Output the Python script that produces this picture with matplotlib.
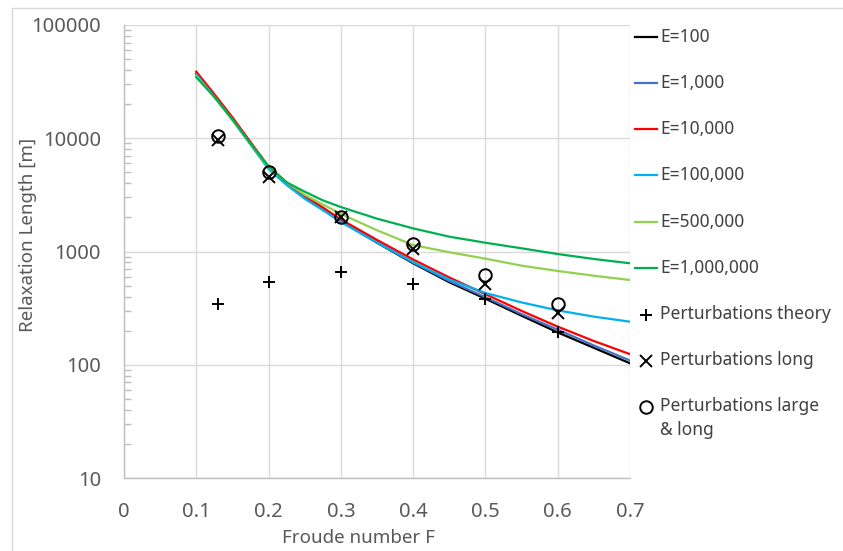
import matplotlib
matplotlib.use("Agg")
import matplotlib.pyplot as plt
from matplotlib.lines import Line2D
from matplotlib.patches import Rectangle
import matplotlib.ticker as mticker
import numpy as np

plt.rcParams['font.family'] = ['Noto Sans', 'DejaVu Sans']

# ---- data ----
F_curve = [0.1, 0.125, 0.15, 0.175, 0.2, 0.225, 0.25, 0.275, 0.3, 0.35, 0.4, 0.45, 0.5, 0.55, 0.6, 0.65, 0.7]
E100     = [36900, 23500, 14700, 8900, 5430, 3920, 3000, 2370, 1850, 1196, 787, 535, 383, 271, 193, 141, 103]
E1000    = [37500, 23800, 14900, 9000, 5500, 3970, 3040, 2400, 1870, 1210, 800, 548, 395, 280, 204, 148, 109]
E10000   = [38700, 24500, 15300, 9250, 5620, 4050, 3100, 2450, 1920, 1265, 850, 590, 420, 299, 217, 162, 124]
E100000  = [36500, 23300, 14500, 8800, 5350, 3870, 2920, 2320, 1820, 1200, 805, 565, 430, 355, 302, 266, 240]
E500000  = [35500, 23000, 14500, 8900, 5550, 4080, 3160, 2600, 2150, 1540, 1140, 985, 865, 750, 673, 611, 560]
E1000000 = [34500, 23200, 14700, 9000, 5650, 4080, 3375, 2830, 2470, 1950, 1600, 1352, 1195, 1067, 950, 859, 787]

F_pts = [0.13, 0.2, 0.3, 0.4, 0.5, 0.6]
pert_theory = [344, 537, 659, 516, 380, 194]
pert_long = [9660, 4550, 2017, 1052, 516, 286]
pert_large_long = [10470, 5035, 2017, 1165, 620, 344]

curve_labels = ["E=100", "E=1,000", "E=10,000", "E=100,000", "E=500,000", "E=1,000,000"]
curve_colors = ["#000000", "#4472C4", "#FF0000", "#00B0F0", "#92D050", "#00B050"]
point_labels = ["Perturbations theory", "Perturbations long", "Perturbations large\n& long"]

x_ticks = [0, 0.1, 0.2, 0.3, 0.4, 0.5, 0.6, 0.7]
y_ticks = [10, 100, 1000, 10000, 100000]

W, H = 843, 551
fig = plt.figure(figsize=(W / 100, H / 100), dpi=100)
ax = fig.add_axes([124 / W, 1 - 478 / H, (630 - 124) / W, (478 - 25) / H])

# outer border
fig.add_artist(Rectangle((12 / W, -0.05), 1.1, 1 - 8 / H + 0.05, transform=fig.transFigure,
                         fill=False, edgecolor="#D9D9D9", linewidth=1.0))

series = [E100, E1000, E10000, E100000, E500000, E1000000]
for vals, c in zip(series, curve_colors):
    ax.plot(F_curve, vals, color=c, linewidth=1.6, zorder=3, solid_joinstyle='round')

ax.plot(F_pts, pert_theory, linestyle='none', marker='+', color='black', markersize=9, markeredgewidth=1.4, zorder=4)
ax.plot(F_pts, pert_long, linestyle='none', marker='x', color='black', markersize=8.5, markeredgewidth=1.4, zorder=4)
ax.plot(F_pts, pert_large_long, linestyle='none', marker='o', markerfacecolor='none', markeredgecolor='black',
        markersize=9, markeredgewidth=1.4, zorder=4)

ax.set_yscale('log')
ax.set_xlim(0, 0.7)
ax.set_ylim(10, 100000)
ax.set_xticks(x_ticks)
ax.set_xticklabels([("%g" % v) for v in x_ticks])
ax.set_yticks(y_ticks)
ax.set_yticklabels([str(v) for v in y_ticks])

ax.grid(True, which='major', color='#D9D9D9', linewidth=1.0)
ax.set_axisbelow(True)
for s in ['top', 'right']:
    ax.spines[s].set_visible(False)
for s in ['left', 'bottom']:
    ax.spines[s].set_color('#BFBFBF')
    ax.spines[s].set_linewidth(1.0)

ax.tick_params(axis='both', which='major', length=0, labelsize=14.5, labelcolor='#595959')
ax.tick_params(axis='x', pad=17)
ax.tick_params(axis='y', pad=16.5)
ax.tick_params(axis='y', which='minor', direction='in', length=5, color='#BFBFBF', width=1.0)
ax.yaxis.set_minor_locator(mticker.LogLocator(base=10, subs=np.arange(2, 10)))
ax.yaxis.set_minor_formatter(mticker.NullFormatter())

ax.set_xlabel("Froude number F", fontsize=13.5, color='#595959')
ax.set_ylabel("Relaxation Length [m]", fontsize=13.5, color='#595959')
ax.xaxis.set_label_coords(0.463, -0.132)
ax.xaxis.label.set_verticalalignment('center')
ax.yaxis.set_label_coords(-0.19, 0.536)
ax.yaxis.label.set_verticalalignment('center')

# ---- legend (manual, in figure pixels) ----
def fy(y):
    return 1 - y / H

leg_y = [37, 83, 129, 175, 222, 268]
for lab, c, y in zip(curve_labels, curve_colors, leg_y):
    fig.add_artist(Line2D([635 / W, 657 / W], [fy(y), fy(y)], transform=fig.transFigure, color=c, linewidth=1.6))
    fig.text(660 / W, fy(y), lab, fontsize=12.5, color='#404040', va='center', ha='left')

mk = [dict(marker='+', markersize=9), dict(marker='x', markersize=8.5), dict(marker='o', markersize=9, markerfacecolor='none')]
pt_y = [315, 361, 407]
for lab, m, y in zip(point_labels, mk, pt_y):
    fig.add_artist(Line2D([646 / W], [fy(y)], transform=fig.transFigure, linestyle='none', color='black',
                          markeredgewidth=1.4, **m))
    fig.text(660 / W, fy(y) + 0.019, lab, fontsize=12.5, color='#404040', va='top', ha='left', linespacing=1.45)

fig.savefig("out.png", dpi=100)
